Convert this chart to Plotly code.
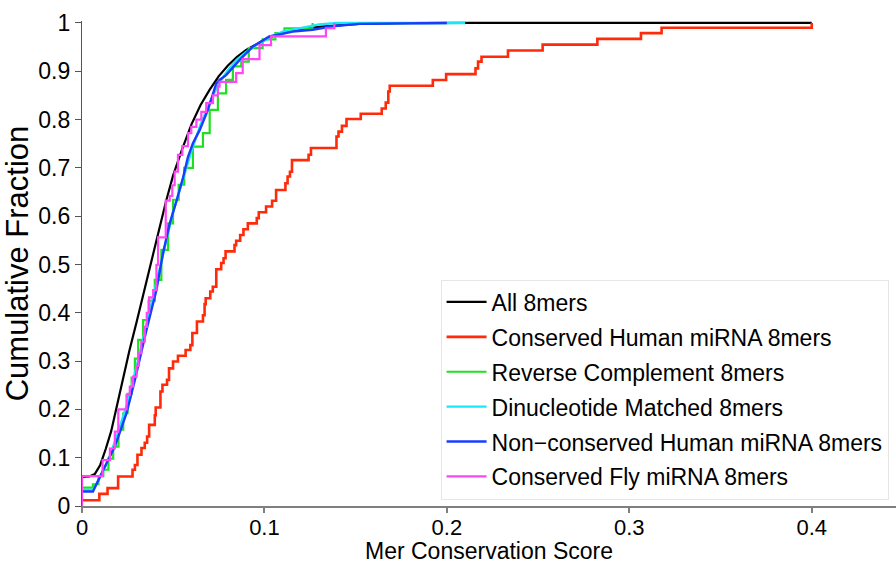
import plotly.graph_objects as go

# Empirical cumulative distributions of mer conservation scores.
# Step series: each x is where the fraction rises to the matching y.

all_x = [0.0, 0.004, 0.007, 0.010, 0.013, 0.016, 0.019, 0.022, 0.026, 0.030,
         0.034, 0.038, 0.042, 0.046, 0.050, 0.055, 0.060, 0.065, 0.070, 0.075,
         0.080, 0.085, 0.090, 0.095, 0.100, 0.105, 0.110, 0.120, 0.130, 0.140,
         0.152, 0.180, 0.210, 0.400]
all_y = [0.060, 0.061, 0.066, 0.085, 0.118, 0.155, 0.205, 0.258, 0.322, 0.382,
         0.445, 0.510, 0.570, 0.630, 0.685, 0.740, 0.790, 0.830, 0.862, 0.890,
         0.912, 0.930, 0.944, 0.955, 0.965, 0.973, 0.979, 0.987, 0.992, 0.995,
         0.998, 0.9995, 1.0, 1.0]

human_x = [0.0, 0.0095, 0.0140, 0.0198, 0.0277, 0.0290, 0.0304, 0.0326, 0.0344,
           0.0357, 0.0368, 0.0399, 0.0404, 0.0430, 0.0441, 0.0466, 0.0477, 0.0499,
           0.0526, 0.0568, 0.0594, 0.0605, 0.0630, 0.0663, 0.0672, 0.0678, 0.0703,
           0.0717, 0.0736, 0.0763, 0.0776, 0.0787, 0.0836, 0.0845, 0.0867, 0.0885,
           0.0909, 0.0958, 0.0969, 0.1009, 0.1042, 0.1064, 0.1115, 0.1127, 0.1140,
           0.1151, 0.1242, 0.1255, 0.1395, 0.1406, 0.1425, 0.1450, 0.1528, 0.1643,
           0.1665, 0.1679, 0.1687, 0.1923, 0.1996, 0.2157, 0.2171, 0.2190, 0.2335,
           0.2525, 0.2825, 0.3064, 0.3177, 0.4000]
human_y = [0.012, 0.025, 0.037, 0.061, 0.075, 0.085, 0.106, 0.120, 0.131, 0.144,
           0.168, 0.188, 0.204, 0.237, 0.251, 0.261, 0.285, 0.299, 0.311, 0.323,
           0.333, 0.358, 0.382, 0.395, 0.418, 0.430, 0.444, 0.454, 0.490, 0.503,
           0.513, 0.527, 0.540, 0.549, 0.561, 0.573, 0.585, 0.596, 0.608, 0.620,
           0.632, 0.654, 0.668, 0.682, 0.692, 0.716, 0.727, 0.741, 0.765, 0.775,
           0.787, 0.801, 0.812, 0.823, 0.835, 0.858, 0.870, 0.882, 0.894, 0.906,
           0.920, 0.930, 0.943, 0.955, 0.967, 0.979, 0.990, 1.000]

revcomp_x = [0.0, 0.006, 0.009, 0.0117, 0.0145, 0.0171, 0.020, 0.0226, 0.0250,
             0.0272, 0.0290, 0.0308, 0.0335, 0.0365, 0.0399, 0.0435, 0.0472,
             0.0499, 0.0530, 0.0560, 0.0608, 0.0663, 0.0700, 0.0745, 0.0790,
             0.0827, 0.0873, 0.0914, 0.0990, 0.1060, 0.1110, 0.1264]
revcomp_y = [0.038, 0.045, 0.062, 0.075, 0.098, 0.123, 0.158, 0.192, 0.232,
             0.266, 0.305, 0.344, 0.385, 0.425, 0.468, 0.530, 0.585,
             0.634, 0.665, 0.700, 0.744, 0.772, 0.820, 0.854, 0.882,
             0.910, 0.920, 0.948, 0.966, 0.979, 0.989, 1.000]

dinuc_x = [0.0, 0.006, 0.010, 0.015, 0.020, 0.025, 0.030, 0.035, 0.040, 0.045,
           0.050, 0.055, 0.060, 0.065, 0.070, 0.075, 0.080, 0.085, 0.090, 0.095,
           0.100, 0.105, 0.110, 0.120, 0.130, 0.140, 0.210]
dinuc_y = [0.033, 0.033, 0.060, 0.100, 0.155, 0.215, 0.290, 0.370, 0.450, 0.535,
           0.610, 0.672, 0.735, 0.790, 0.835, 0.875, 0.902, 0.924, 0.940, 0.953,
           0.964, 0.974, 0.982, 0.990, 0.997, 1.000, 1.000]

nonhuman_x = [0.0, 0.006, 0.0117, 0.018, 0.0244, 0.029, 0.0353, 0.0408, 0.0444,
              0.0481, 0.0520, 0.0554, 0.0581, 0.0608, 0.0645, 0.0690, 0.0736,
              0.0754, 0.0790, 0.0863, 0.0936, 0.1027, 0.1155, 0.1264, 0.1373,
              0.1520, 0.1740, 0.2000]
nonhuman_y = [0.030, 0.030, 0.075, 0.123, 0.192, 0.261, 0.364, 0.447, 0.523,
              0.585, 0.634, 0.680, 0.723, 0.751, 0.778, 0.820, 0.875,
              0.882, 0.892, 0.923, 0.951, 0.972, 0.982, 0.986, 0.993,
              0.998, 0.999, 1.000]

fly_x = [0.0, 0.0, 0.0113, 0.0153, 0.0180, 0.0199, 0.0244, 0.0262, 0.0280,
         0.0299, 0.0310, 0.0325, 0.0344, 0.0355, 0.0368, 0.0390, 0.0408, 0.0417,
         0.0459, 0.0481, 0.0495, 0.0508, 0.0526, 0.0550, 0.0581, 0.0599, 0.0627,
         0.0654, 0.0681, 0.0718, 0.0745, 0.0754, 0.0845, 0.0881, 0.0973, 0.1036,
         0.1337, 0.1383]
fly_y = [0.0, 0.062, 0.095, 0.119, 0.154, 0.200, 0.230, 0.247, 0.268,
         0.290, 0.316, 0.340, 0.371, 0.400, 0.432, 0.447, 0.499, 0.556,
         0.632, 0.642, 0.664, 0.692, 0.727, 0.745, 0.772, 0.785, 0.800,
         0.816, 0.834, 0.850, 0.868, 0.878, 0.896, 0.925, 0.954, 0.972,
         0.989, 1.000]

x_ticks = [0, 0.1, 0.2, 0.3, 0.4]
x_tick_labels = ["0", "0.1", "0.2", "0.3", "0.4"]
y_ticks = [0, 0.1, 0.2, 0.3, 0.4, 0.5, 0.6, 0.7, 0.8, 0.9, 1.0]
y_tick_labels = ["0", "0.1", "0.2", "0.3", "0.4", "0.5", "0.6", "0.7", "0.8", "0.9", "1"]

series = [
    ("All 8mers", all_x, all_y, "#000000", "linear", 2.2),
    ("Conserved Human miRNA 8mers", human_x, human_y, "#ff2a0a", "hv", 2.6),
    ("Reverse Complement 8mers", revcomp_x, revcomp_y, "#1ee01e", "hv", 2.2),
    ("Dinucleotide Matched 8mers", dinuc_x, dinuc_y, "#18e8f8", "linear", 2.4),
    ("Non\u2212conserved Human miRNA 8mers", nonhuman_x, nonhuman_y, "#1a3cff", "linear", 2.4),
    ("Conserved Fly miRNA 8mers", fly_x, fly_y, "#ff45f5", "hv", 2.2),
]

FONT = "Liberation Sans, Arial, Helvetica, sans-serif"

fig = go.Figure()
for i, (name, xs, ys, color, shape, width) in enumerate(series):
    fig.add_trace(go.Scatter(
        x=xs, y=ys, mode="lines", name=name, legendgroup=f"g{i}",
        line=dict(color=color, width=width, shape=shape),
    ))

fig.update_layout(
    width=896, height=564,
    margin=dict(l=82, r=0, t=21, b=58),
    paper_bgcolor="white", plot_bgcolor="white",
    font=dict(family=FONT, size=23, color="black"),
    showlegend=True,
    legend=dict(
        x=0.4405, y=0.467, xanchor="left", yanchor="top",
        bgcolor="white", bordercolor="#e6e6e6", borderwidth=1,
        font=dict(family=FONT, size=23, color="black"),
        itemwidth=40, tracegroupgap=2,
    ),
)

fig.update_xaxes(
    range=[0, 0.4462], showgrid=False, zeroline=False,
    showline=True, linecolor="#7f7f7f", linewidth=2,
    ticks="outside", ticklen=5, tickwidth=1.5, tickcolor="#7f7f7f",
    tickvals=x_ticks, ticktext=x_tick_labels, ticklabelstandoff=-4,
    tickfont=dict(family=FONT, size=22, color="black"),
    title=dict(text="Mer Conservation Score", standoff=6,
               font=dict(family=FONT, size=23, color="black")),
)
fig.update_yaxes(
    range=[0, 1.004], showgrid=False, zeroline=False,
    showline=True, linecolor="#555555", linewidth=1.2,
    ticks="outside", ticklen=6, tickwidth=1.2, tickcolor="#555555",
    tickvals=y_ticks, ticktext=y_tick_labels,
    tickfont=dict(family=FONT, size=23, color="black"),
    title=dict(text="Cumulative Fraction", standoff=3,
               font=dict(family=FONT, size=31, color="black")),
)

fig.write_html("out.html")
